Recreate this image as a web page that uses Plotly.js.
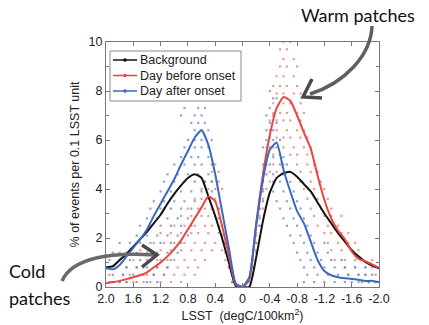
<!DOCTYPE html>
<html>
<head>
<meta charset="utf-8">
<script src="https://cdn.plot.ly/plotly-3.0.1.min.js"></script>
<style>html,body{margin:0;padding:0;background:#fff;}#chart{width:429px;height:325px;}</style>
</head>
<body>
<div id="chart"></div>
<script>
// LSST bins (x), reversed axis from 2.0 to -2.0
var lsst = [2.0,1.9,1.8,1.7,1.6,1.5,1.4,1.3,1.2,1.1,1.0,0.9,0.8,0.7,0.6,0.5,0.4,0.3,0.2,0.1,0.0,
            -0.1,-0.2,-0.3,-0.4,-0.5,-0.6,-0.7,-0.8,-0.9,-1.0,-1.1,-1.2,-1.3,-1.4,-1.5,-1.6,-1.7,-1.8,-1.9,-2.0];

var background = [0.8,0.85,1.1,1.35,1.65,1.95,2.25,2.6,2.95,3.4,3.8,4.15,4.45,4.6,4.45,3.7,2.9,2.0,1.0,0.05,0,
                  0.0,1.2,2.7,3.85,4.45,4.65,4.7,4.5,4.2,3.9,3.45,3.0,2.6,2.2,1.85,1.5,1.25,1.02,0.87,0.76];

var dayBefore = [0.15,0.2,0.25,0.32,0.4,0.48,0.6,0.8,1.0,1.25,1.55,1.9,2.35,2.8,3.25,3.7,3.5,2.5,1.3,0.1,0,
                 0.3,2.6,4.6,6.2,7.3,7.75,7.6,7.0,6.3,5.65,4.55,3.55,2.8,2.3,1.95,1.45,1.15,1.05,0.92,0.78];

var dayAfter = [0.78,0.72,0.9,1.25,1.6,1.95,2.35,2.9,3.4,3.9,4.4,5.0,5.55,6.1,6.4,5.8,4.6,3.1,1.6,0.15,0,
                0.4,2.5,4.4,5.6,5.9,4.8,3.9,3.1,2.6,1.85,1.1,0.65,0.48,0.4,0.36,0.33,0.3,0.25,0.25,0.2];

var seriesNames = ['Background', 'Day before onset', 'Day after onset'];

var xTickVals = [2.0,1.6,1.2,0.8,0.4,0,-0.4,-0.8,-1.2,-1.6,-2.0];
var xTickText = ['2.0','1.6','1.2','0.8','0.4','0','-0.4','-0.8','-1.2','-1.6','-2.0'];
var yTickVals = [0,2,4,6,8,10];

// Individual event dots, grouped by row level (y) with x positions
var redRowY = [0.2,0.5,0.8,1.1,1.5,1.8,2.2,2.5,2.9,3.2,3.6,4.0,4.3,4.7,5.0,5.4,5.7,6.1,6.4,6.8,7.1,7.5,7.9,8.2,8.6,9.0,9.3,9.7,10.0];
var redRowX = [
  [1.9,1.8,1.7,1.6,1.45,1.35,1.2,1.05,0.9,0.15,-1.7,-1.85,-1.95],
  [1.95,1.75,1.65,1.5,1.4,1.3,1.15,1.0,0.85,0.7,0.15,-1.55,-1.7,-1.8,-1.95],
  [1.9,1.7,1.55,1.45,1.25,1.1,0.95,0.8,0.65,0.2,-0.15,-1.5,-1.65,-1.8,-1.9],
  [1.8,1.6,1.4,1.25,1.1,1.0,0.85,0.7,0.55,0.25,-0.15,-1.35,-1.5,-1.65,-1.75,-1.9],
  [1.5,1.35,1.2,1.05,0.9,0.75,0.6,0.45,0.3,-0.15,-0.2,-1.3,-1.45,-1.6,-1.7],
  [1.3,1.15,1.0,0.85,0.7,0.55,0.4,0.25,-0.2,-1.25,-1.4,-1.55,-1.65],
  [1.2,1.05,0.9,0.75,0.65,0.5,0.35,-0.2,-1.2,-1.3,-1.45,-1.55],
  [1.0,0.85,0.7,0.55,0.45,0.35,-0.2,-0.25,-1.1,-1.25,-1.4],
  [0.9,0.75,0.6,0.5,0.4,-0.25,-1.05,-1.2,-1.3,-1.45],
  [0.8,0.65,0.55,0.45,0.35,-0.25,-0.3,-1.0,-1.15,-1.3],
  [0.7,0.6,0.5,0.4,-0.25,-0.3,-0.95,-1.1,-1.25],
  [0.6,0.5,0.4,0.3,-0.3,-0.35,-0.9,-1.05,-1.2],
  [0.55,0.45,0.35,-0.3,-0.4,-0.85,-1.0,-1.15],
  [0.45,0.35,-0.3,-0.4,-0.5,-0.85,-1.0,-1.1],
  [0.4,-0.35,-0.45,-0.6,-0.8,-0.95,-1.05],
  [-0.35,-0.45,-0.55,-0.7,-0.8,-0.95],
  [-0.35,-0.45,-0.6,-0.75,-0.9,-1.0],
  [-0.4,-0.5,-0.6,-0.7,-0.85,-0.95],
  [-0.4,-0.5,-0.65,-0.8,-0.9],
  [-0.4,-0.5,-0.6,-0.7,-0.85],
  [-0.45,-0.55,-0.65,-0.8,-0.9],
  [-0.45,-0.6,-0.7,-0.85],
  [-0.5,-0.6,-0.75,-0.85],
  [-0.45,-0.55,-0.65,-0.8],
  [-0.5,-0.6,-0.75],
  [-0.55,-0.65,-0.8],
  [-0.6,-0.75],
  [-0.55,-0.65],
  [-0.6,-0.7]
];
var blueRowY = [0.2,0.5,0.8,1.1,1.4,1.8,2.1,2.5,2.8,3.2,3.5,3.9,4.3,4.6,5.0,5.3,5.7,6.0,6.4,6.7,7.0,7.3,7.7,8.0];
var blueRowX = [
  [1.95,1.8,1.7,1.55,1.4,1.25,0.15,-0.1,-0.9,-1.05,-1.2,-1.35,-1.5,-1.6,-1.75,-1.85,-1.95],
  [1.9,1.75,1.6,1.45,1.3,1.15,0.15,-0.15,-0.95,-1.1,-1.25,-1.4,-1.55,-1.7,-1.8,-1.9],
  [2.0,1.85,1.7,1.55,1.4,1.25,1.1,0.2,-0.15,-0.9,-1.05,-1.2,-1.35,-1.5,-1.65,-1.8],
  [1.95,1.8,1.65,1.5,1.35,1.2,1.05,0.2,-0.15,-0.85,-1.0,-1.15,-1.3,-1.45],
  [1.9,1.8,1.7,1.55,1.4,1.25,1.1,0.95,0.25,-0.2,-0.8,-0.95,-1.1,-1.25],
  [1.8,1.65,1.5,1.35,1.2,1.05,0.9,0.25,-0.2,-0.75,-0.9,-1.05,-1.2],
  [1.55,1.4,1.25,1.1,0.95,0.8,0.3,-0.2,-0.7,-0.85,-1.0],
  [1.5,1.35,1.2,1.05,0.9,0.75,0.3,-0.25,-0.65,-0.8,-0.95],
  [1.4,1.25,1.1,0.95,0.8,0.35,-0.25,-0.6,-0.75,-0.9],
  [1.35,1.2,1.05,0.9,0.75,0.35,-0.25,-0.55,-0.7,-0.85],
  [1.3,1.15,1.0,0.85,0.7,0.4,-0.3,-0.5,-0.65,-0.8],
  [1.2,1.05,0.9,0.75,0.6,0.45,-0.3,-0.45,-0.6,-0.75],
  [1.15,1.0,0.85,0.7,0.55,0.45,-0.3,-0.45,-0.55,-0.7],
  [1.1,0.95,0.8,0.65,0.5,-0.35,-0.45,-0.6],
  [1.0,0.85,0.7,0.6,0.45,-0.3,-0.4,-0.55,-0.65],
  [0.9,0.75,0.65,0.5,-0.35,-0.45,-0.6],
  [0.85,0.7,0.6,0.5,-0.3,-0.4,-0.5],
  [0.8,0.7,0.6,0.45,-0.35,-0.45,-0.55],
  [0.7,0.6,0.5,-0.35,-0.45],
  [0.75,0.65,0.55,-0.4,-0.5],
  [0.9,0.7,0.6,-0.35,-0.45],
  [0.85,0.65,0.55,-0.4],
  [0.75,0.6,-0.45,-0.5],
  [-0.4]
];

function flatten(rowY, rowX) {
  var xs = [], ys = [];
  for (var i = 0; i < rowY.length; i++) {
    for (var j = 0; j < rowX[i].length; j++) { xs.push(rowX[i][j]); ys.push(rowY[i]); }
  }
  return {x: xs, y: ys};
}
var redDots = flatten(redRowY, redRowX);
var blueDots = flatten(blueRowY, blueRowX);

var BLACK = '#111111', RED = '#e8463c', BLUE = '#3b69c0';
var COLORS = [BLACK, RED, BLUE];

var traces = [
  {x: redDots.x, y: redDots.y, mode: 'markers', type: 'scatter', showlegend: false,
   marker: {color: '#e47070', size: 2.2, symbol: 'square', opacity: 0.7}, hoverinfo: 'skip'},
  {x: blueDots.x, y: blueDots.y, mode: 'markers', type: 'scatter', showlegend: false,
   marker: {color: '#5f7cc6', size: 2.2, symbol: 'square', opacity: 0.7}, hoverinfo: 'skip'},
  {x: lsst, y: background, name: seriesNames[0], mode: 'lines', type: 'scatter', showlegend: false,
   line: {color: BLACK, width: 2, shape: 'spline', smoothing: 0.5}},
  {x: lsst, y: dayBefore, name: seriesNames[1], mode: 'lines', type: 'scatter', showlegend: false,
   line: {color: RED, width: 2, shape: 'spline', smoothing: 0.5}},
  {x: lsst, y: dayAfter, name: seriesNames[2], mode: 'lines', type: 'scatter', showlegend: false,
   line: {color: BLUE, width: 2, shape: 'spline', smoothing: 0.5}}
];

// pixel -> paper helper for decorative elements (arrows, legend box)
var L = 106, R = 379, T = 42, B = 287;
function px(x) { return (x - L) / (R - L); }
function py(y) { return (B - y) / (B - T); }
function P(x, y) { return px(x).toFixed(4) + ',' + py(y).toFixed(4); }

var shapes = [
  {type: 'path', xref: 'paper', yref: 'paper', layer: 'above',
   path: 'M' + P(372, 26) + ' C' + P(371, 55) + ' ' + P(345, 83) + ' ' + P(310, 94),
   line: {color: '#5f5f5f', width: 3.5}},
  {type: 'path', xref: 'paper', yref: 'paper', layer: 'above',
   path: 'M' + P(312, 79) + ' L' + P(303, 97) + ' L' + P(322, 98),
   line: {color: '#4a4a4a', width: 3.5}},
  {type: 'path', xref: 'paper', yref: 'paper', layer: 'above',
   path: 'M' + P(62, 281) + ' C' + P(72, 258) + ' ' + P(110, 252) + ' ' + P(154, 255),
   line: {color: '#6a6a6a', width: 3.5}},
  {type: 'path', xref: 'paper', yref: 'paper', layer: 'above',
   path: 'M' + P(142, 245) + ' L' + P(157, 255) + ' L' + P(142, 267),
   line: {color: '#4a4a4a', width: 3.5}},
  // legend box
  {type: 'rect', xref: 'paper', yref: 'paper', layer: 'above',
   x0: px(110), x1: px(241), y0: py(101), y1: py(51),
   fillcolor: '#ffffff', line: {color: '#8a8a8a', width: 1}}
];

var annFont = {family: 'Lato, "Open Sans", sans-serif', size: 18, color: '#111'};
var annotations = [
  {text: 'Warm patches', xref: 'paper', yref: 'paper', x: px(358), y: py(15),
   xanchor: 'center', yanchor: 'middle', showarrow: false, font: annFont},
  {text: 'Cold', xref: 'paper', yref: 'paper', x: px(7), y: py(271),
   xanchor: 'left', yanchor: 'middle', showarrow: false, font: annFont},
  {text: 'patches', xref: 'paper', yref: 'paper', x: px(7), y: py(298),
   xanchor: 'left', yanchor: 'middle', showarrow: false, font: annFont}
];

// legend entries: line sample with a dot, then text
var legendRowsY = [60, 75.5, 91];
for (var k = 0; k < seriesNames.length; k++) {
  var yy = legendRowsY[k];
  shapes.push({type: 'line', xref: 'paper', yref: 'paper', layer: 'above',
    x0: px(113), x1: px(137), y0: py(yy), y1: py(yy), line: {color: COLORS[k], width: 1.5}});
  shapes.push({type: 'circle', xref: 'paper', yref: 'paper', layer: 'above',
    x0: px(123.5), x1: px(126.5), y0: py(yy + 1.5), y1: py(yy - 1.5),
    fillcolor: COLORS[k], line: {color: COLORS[k], width: 0.5}});
  annotations.push({text: seriesNames[k], xref: 'paper', yref: 'paper', x: px(138), y: py(yy),
    xanchor: 'left', yanchor: 'middle', showarrow: false,
    font: {family: '"Liberation Sans", Arial, sans-serif', size: 12.5, color: '#222'}});
}

var layout = {
  width: 429, height: 325,
  margin: {l: L, r: 429 - R, t: T, b: 325 - B},
  paper_bgcolor: '#fff', plot_bgcolor: '#fff',
  font: {family: '"Liberation Sans", Arial, sans-serif', size: 12, color: '#222'},
  showlegend: false,
  xaxis: {range: [2.0, -2.0], tickvals: xTickVals, ticktext: xTickText,
          ticks: 'inside', ticklen: 4, tickcolor: '#777', showline: true, linecolor: '#777',
          linewidth: 1, mirror: 'ticks', showgrid: false, zeroline: false,
          tickfont: {size: 12.5, color: '#222'},
          title: {text: 'LSST  (degC/100km<sup>2</sup>)', font: {size: 12.5, color: '#222'}, standoff: 6}},
  yaxis: {range: [0, 10], tickvals: yTickVals,
          ticks: 'inside', ticklen: 4, tickcolor: '#777', showline: true, linecolor: '#777',
          linewidth: 1, mirror: 'ticks', showgrid: false, zeroline: false,
          minor: {dtick: 1, ticks: 'inside', ticklen: 3, tickcolor: '#777'},
          tickfont: {size: 12.5, color: '#222'},
          title: {text: '% of events per 0.1 LSST unit', font: {size: 12.5, color: '#222'}, standoff: 6}},
  shapes: shapes,
  annotations: annotations
};

Plotly.newPlot('chart', traces, layout, {staticPlot: true, displayModeBar: false});
</script>
</body>
</html>
